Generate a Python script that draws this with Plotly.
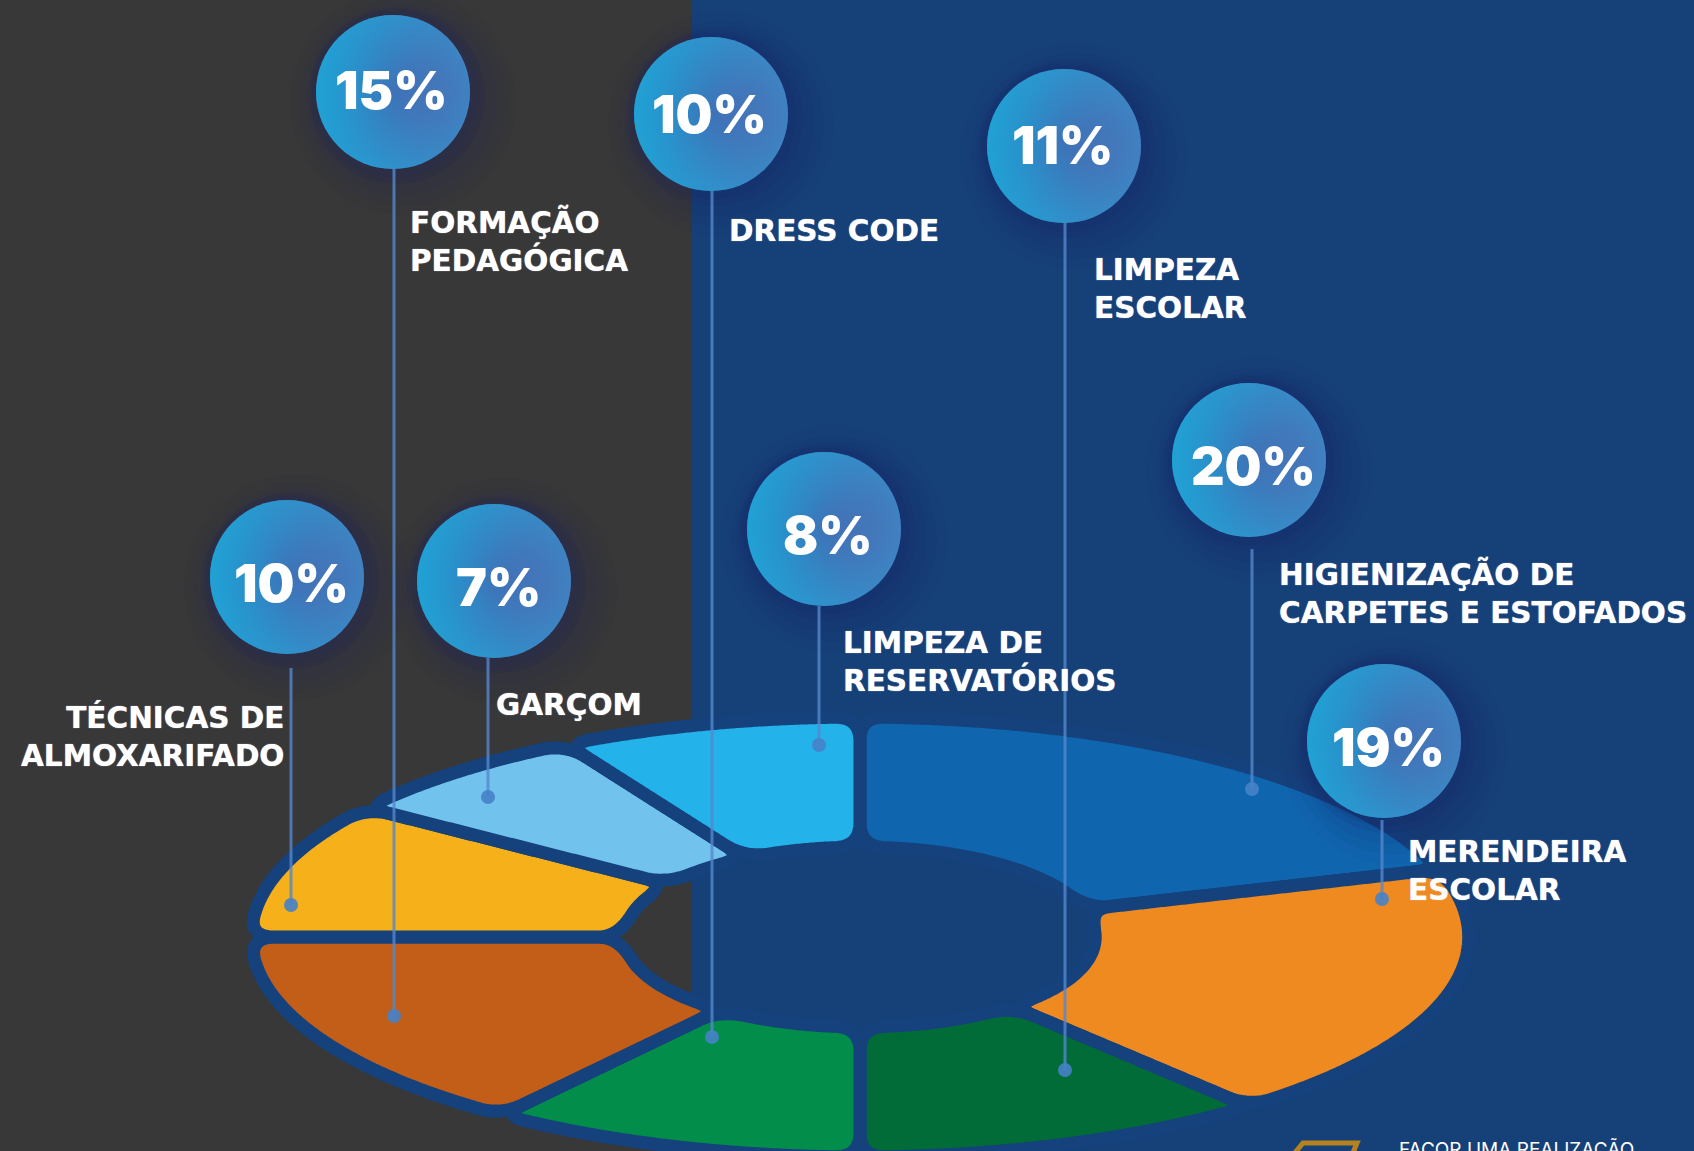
import numpy as np
import plotly.graph_objects as go

# clockwise from 12 o'clock
categories = ["HIGIENIZAÇÃO DE<br>CARPETES E ESTOFADOS", "MERENDEIRA<br>ESCOLAR", "LIMPEZA<br>ESCOLAR", "DRESS CODE",
              "FORMAÇÃO<br>PEDAGÓGICA", "TÉCNICAS DE<br>ALMOXARIFADO", "GARÇOM", "LIMPEZA DE<br>RESERVATÓRIOS"]
values = [20, 19, 11, 10, 15, 10, 7, 8]
colors = ["#0F65AE", "#EE8A1F", "#016C38", "#038D4B", "#C25E17", "#F5B01A", "#72C2EE", "#23B2EA"]

# layout of the callouts, in page pixels
bubble_x = [1249, 1384, 1064, 711, 393, 287, 494, 824]
bubble_y = [460, 741, 146, 114, 92, 577, 581, 529]
pct_x = [1253, 1388, 1062, 709, 391, 291, 498, 828]
pct_y = [466, 747, 145, 114, 90, 583, 587, 535]
line_x = [1252, 1382, 1065, 712, 394, 291, 488, 819]
line_top = [549, 820, 222, 190, 168, 668, 658, 606]
dot_y = [789, 899, 1070, 1037, 1016, 905, 797, 745]
label_x = [1277, 1406, 1092, 727, 408, 286, 494, 841]
label_y = [593, 871, 289, 231, 241, 736, 705, 662]
label_anchor = ["left", "left", "left", "left", "left", "right", "left", "left"]

W, H = 1694, 1151
NAVY = "#164078"
DARK = "#383838"
RING = "#15417C"
CX, CY = 860, 937
A_OUT, B_OUT = 610, 220
A_IN, B_IN = 238, 90


def slice_path(start, end, smooth=25):
    # donut wedge on a flattened ellipse, corners rounded by a moving average
    t = np.radians(np.linspace(start, end, 200))
    x = np.r_[CX + A_OUT * np.sin(t), CX + A_IN * np.sin(t[::-1])]
    y = np.r_[CY - B_OUT * np.cos(t), CY - B_IN * np.cos(t[::-1])]
    x, y = np.r_[x, x[0]], np.r_[y, y[0]]
    s = np.r_[0, np.cumsum(np.hypot(np.diff(x), np.diff(y)))]
    u = np.arange(0, s[-1], 2.0)
    rx, ry = np.interp(u, s, x), np.interp(u, s, y)
    k = np.ones(smooth) / smooth
    pad = smooth
    rx = np.convolve(np.r_[rx[-pad:], rx, rx[:pad]], k, mode="same")[pad:-pad]
    ry = np.convolve(np.r_[ry[-pad:], ry, ry[:pad]], k, mode="same")[pad:-pad]
    return np.r_[rx, rx[0]], np.r_[ry, ry[0]]


fig = go.Figure()

# donut
edges = np.cumsum([0] + values) / sum(values) * 360
for i, val in enumerate(values):
    px, py = slice_path(edges[i], edges[i + 1])
    fig.add_trace(go.Scatter(x=px, y=py, mode="lines", fill="toself", fillcolor=colors[i],
                             line=dict(color=RING, width=13, simplify=False), hoverinfo="skip"))

# soft shadow under each bubble, stacked rings
for size, alpha, off in [(226, 0.04, 10), (206, 0.05, 10), (190, 0.07, 8), (176, 0.12, 4), (166, 0.12, 2)]:
    fig.add_trace(go.Scatter(x=[b + off for b in bubble_x], y=[b + off for b in bubble_y],
                             mode="markers", hoverinfo="skip",
                             marker=dict(size=size, color=f"rgba(22,34,95,{alpha})", line_width=0)))

# stems and dots
for lx, top, dy in zip(line_x, line_top, dot_y):
    fig.add_trace(go.Scatter(x=[lx, lx], y=[top, dy], mode="lines", hoverinfo="skip",
                             line=dict(color="rgba(85,135,205,0.8)", width=3)))
fig.add_trace(go.Scatter(x=line_x, y=dot_y, mode="markers", hoverinfo="skip",
                         marker=dict(size=14, color="rgba(70,130,200,0.9)", line_width=0)))

# bubbles
fig.add_trace(go.Scatter(x=bubble_x, y=bubble_y, mode="markers", hoverinfo="skip",
                         marker=dict(size=154, color="#1B96CE", line_width=0,
                                     gradient=dict(type="horizontal", color="#6050A2"))))
fig.add_trace(go.Scatter(x=bubble_x, y=bubble_y, mode="markers", hoverinfo="skip",
                         marker=dict(size=154, color="rgba(36,170,218,0.55)", line_width=0,
                                     gradient=dict(type="radial", color="rgba(36,170,218,0)"))))

annotations = []
for i, cat in enumerate(categories):
    annotations.append(dict(x=pct_x[i], y=pct_y[i], text=f"{values[i]}%", showarrow=False,
                            xanchor="center", yanchor="middle",
                            font=dict(family="Inter", size=52, color="white", weight=900)))
    annotations.append(dict(x=label_x[i], y=label_y[i], text=f"<b>{cat}</b>", showarrow=False,
                            xanchor=label_anchor[i], yanchor="middle", align=label_anchor[i],
                            font=dict(family="DejaVu Sans", size=29.5, color="white",
                                      shadow="0 0 1px rgba(255,255,255,0.9)")))
annotations.append(dict(x=1397, y=1136, text="FACOR UMA REALIZAÇÃO", showarrow=False,
                        xanchor="left", yanchor="top",
                        font=dict(family="Inter", size=19, color="white")))

fig.update_layout(
    width=W, height=H,
    margin=dict(l=0, r=0, t=0, b=0),
    paper_bgcolor=NAVY, plot_bgcolor=NAVY,
    showlegend=False,
    xaxis=dict(range=[0, W], visible=False, fixedrange=True),
    yaxis=dict(range=[H, 0], visible=False, fixedrange=True),
    shapes=[
        dict(type="rect", xref="x", yref="y", x0=0, x1=692, y0=0, y1=H,
             fillcolor=DARK, line_width=0, layer="below"),
        dict(type="path", xref="x", yref="y", path="M 1293,1155 L 1303,1143 L 1357,1143 L 1352,1155",
             line=dict(color="#B5821F", width=5), layer="above"),
    ],
    annotations=annotations,
)

fig.write_html("out.html", config={"displayModeBar": False},
               post_script="document.body.style.margin='0';document.body.style.overflow='hidden';")
